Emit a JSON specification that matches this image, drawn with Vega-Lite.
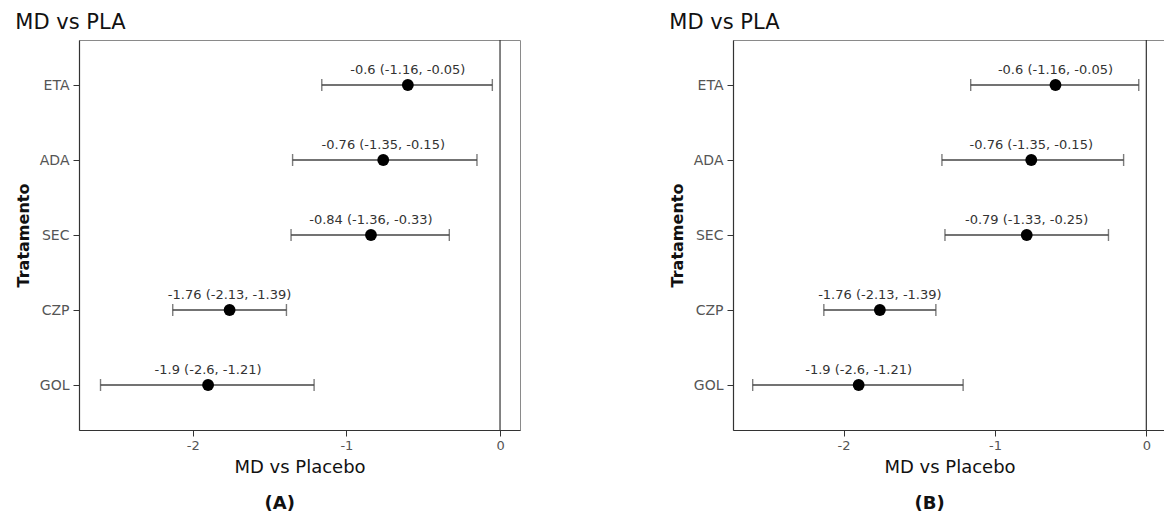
{
  "$schema": "https://vega.github.io/schema/vega-lite/v6.json",
  "padding": {"left": 14, "top": 11, "right": 0, "bottom": 0},
  "background": "white",
  "config": {
    "font": "DejaVu Sans",
    "view": {"stroke": "#8a8a8a", "strokeWidth": 1},
    "axis": {
      "grid": false,
      "domainColor": "#333333",
      "domainWidth": 1.2,
      "tickColor": "#333333",
      "tickSize": 6,
      "labelColor": "#555555",
      "labelFont": "DejaVu Sans",
      "titleFont": "DejaVu Sans",
      "titleColor": "#111111"
    },
    "concat": {"spacing": 147}
  },
  "datasets": {
    "panelA": [
      {"trat": "ETA", "md": -0.6, "lo": -1.16, "hi": -0.05, "label": "-0.6 (-1.16, -0.05)"},
      {"trat": "ADA", "md": -0.76, "lo": -1.35, "hi": -0.15, "label": "-0.76 (-1.35, -0.15)"},
      {"trat": "SEC", "md": -0.84, "lo": -1.36, "hi": -0.33, "label": "-0.84 (-1.36, -0.33)"},
      {"trat": "CZP", "md": -1.76, "lo": -2.13, "hi": -1.39, "label": "-1.76 (-2.13, -1.39)"},
      {"trat": "GOL", "md": -1.9, "lo": -2.6, "hi": -1.21, "label": "-1.9 (-2.6, -1.21)"}
    ],
    "panelB": [
      {"trat": "ETA", "md": -0.6, "lo": -1.16, "hi": -0.05, "label": "-0.6 (-1.16, -0.05)"},
      {"trat": "ADA", "md": -0.76, "lo": -1.35, "hi": -0.15, "label": "-0.76 (-1.35, -0.15)"},
      {"trat": "SEC", "md": -0.79, "lo": -1.33, "hi": -0.25, "label": "-0.79 (-1.33, -0.25)"},
      {"trat": "CZP", "md": -1.76, "lo": -2.13, "hi": -1.39, "label": "-1.76 (-2.13, -1.39)"},
      {"trat": "GOL", "md": -1.9, "lo": -2.6, "hi": -1.21, "label": "-1.9 (-2.6, -1.21)"}
    ],
    "zeroLine": [{"ref": 0}]
  },
  "hconcat": [
    {
      "title": {"text": "(A)", "orient": "bottom", "fontSize": 18, "fontWeight": "bold", "color": "#111111", "anchor": "middle", "offset": 18, "dx": 12},
      "vconcat": [
        {
          "width": 441,
          "height": 390,
          "title": {"text": "MD vs PLA", "anchor": "start", "fontSize": 21, "fontWeight": "normal", "color": "#111111", "offset": 6},
          "layer": [
            {
              "data": {"name": "zeroLine"},
              "mark": {"type": "rule", "color": "#333333", "strokeWidth": 1.2},
              "encoding": {
                "x": {"field": "ref", "type": "quantitative", "scale": {"domain": [-2.74, 0.13], "nice": false, "zero": false}}
              }
            },
            {
              "data": {"name": "panelA"},
              "mark": {"type": "rule", "color": "#444444", "strokeWidth": 1.3},
              "encoding": {
                "y": {"field": "trat", "type": "nominal", "sort": ["ETA", "ADA", "SEC", "CZP", "GOL"], "scale": {"type": "point", "padding": 0.6}, "axis": {"title": "Tratamento", "titleFontSize": 16, "titleFontWeight": "bold", "titlePadding": 8, "labelFontSize": 14, "labelPadding": 4}},
                "x": {"field": "lo", "type": "quantitative", "scale": {"domain": [-2.74, 0.13], "nice": false, "zero": false}, "axis": {"title": "MD vs Placebo", "values": [-2, -1, 0], "labelExpr": "'' + datum.value", "titleFontSize": 18, "titleFontWeight": "normal", "labelFontSize": 13, "titlePadding": 6, "labelPadding": 3}},
                "x2": {"field": "hi"}
              }
            },
            {
              "data": {"name": "panelA"},
              "mark": {"type": "tick", "orient": "vertical", "color": "#444444", "size": 12, "thickness": 1.4},
              "encoding": {
                "y": {"field": "trat", "type": "nominal", "sort": ["ETA", "ADA", "SEC", "CZP", "GOL"]},
                "x": {"field": "lo", "type": "quantitative"}
              }
            },
            {
              "data": {"name": "panelA"},
              "mark": {"type": "tick", "orient": "vertical", "color": "#444444", "size": 12, "thickness": 1.4},
              "encoding": {
                "y": {"field": "trat", "type": "nominal", "sort": ["ETA", "ADA", "SEC", "CZP", "GOL"]},
                "x": {"field": "hi", "type": "quantitative"}
              }
            },
            {
              "data": {"name": "panelA"},
              "mark": {"type": "circle", "color": "black", "opacity": 1, "size": 140},
              "encoding": {
                "y": {"field": "trat", "type": "nominal", "sort": ["ETA", "ADA", "SEC", "CZP", "GOL"]},
                "x": {"field": "md", "type": "quantitative"}
              }
            },
            {
              "data": {"name": "panelA"},
              "mark": {"type": "text", "dy": -15, "fontSize": 13, "color": "#333333", "font": "DejaVu Sans"},
              "encoding": {
                "y": {"field": "trat", "type": "nominal", "sort": ["ETA", "ADA", "SEC", "CZP", "GOL"]},
                "x": {"field": "md", "type": "quantitative"},
                "text": {"field": "label"}
              }
            }
          ]
        }
      ]
    },
    {
      "title": {"text": "(B)", "orient": "bottom", "fontSize": 18, "fontWeight": "bold", "color": "#111111", "anchor": "middle", "offset": 18, "dx": 12},
      "vconcat": [
        {
          "width": 433,
          "height": 390,
          "title": {"text": "MD vs PLA", "anchor": "start", "fontSize": 21, "fontWeight": "normal", "color": "#111111", "offset": 6},
          "layer": [
            {
              "data": {"name": "zeroLine"},
              "mark": {"type": "rule", "color": "#333333", "strokeWidth": 1.2},
              "encoding": {
                "x": {"field": "ref", "type": "quantitative", "scale": {"domain": [-2.73, 0.13], "nice": false, "zero": false}}
              }
            },
            {
              "data": {"name": "panelB"},
              "mark": {"type": "rule", "color": "#444444", "strokeWidth": 1.3},
              "encoding": {
                "y": {"field": "trat", "type": "nominal", "sort": ["ETA", "ADA", "SEC", "CZP", "GOL"], "scale": {"type": "point", "padding": 0.6}, "axis": {"title": "Tratamento", "titleFontSize": 16, "titleFontWeight": "bold", "titlePadding": 8, "labelFontSize": 14, "labelPadding": 4}},
                "x": {"field": "lo", "type": "quantitative", "scale": {"domain": [-2.73, 0.13], "nice": false, "zero": false}, "axis": {"title": "MD vs Placebo", "values": [-2, -1, 0], "labelExpr": "'' + datum.value", "titleFontSize": 18, "titleFontWeight": "normal", "labelFontSize": 13, "titlePadding": 6, "labelPadding": 3}},
                "x2": {"field": "hi"}
              }
            },
            {
              "data": {"name": "panelB"},
              "mark": {"type": "tick", "orient": "vertical", "color": "#444444", "size": 12, "thickness": 1.4},
              "encoding": {
                "y": {"field": "trat", "type": "nominal", "sort": ["ETA", "ADA", "SEC", "CZP", "GOL"]},
                "x": {"field": "lo", "type": "quantitative"}
              }
            },
            {
              "data": {"name": "panelB"},
              "mark": {"type": "tick", "orient": "vertical", "color": "#444444", "size": 12, "thickness": 1.4},
              "encoding": {
                "y": {"field": "trat", "type": "nominal", "sort": ["ETA", "ADA", "SEC", "CZP", "GOL"]},
                "x": {"field": "hi", "type": "quantitative"}
              }
            },
            {
              "data": {"name": "panelB"},
              "mark": {"type": "circle", "color": "black", "opacity": 1, "size": 140},
              "encoding": {
                "y": {"field": "trat", "type": "nominal", "sort": ["ETA", "ADA", "SEC", "CZP", "GOL"]},
                "x": {"field": "md", "type": "quantitative"}
              }
            },
            {
              "data": {"name": "panelB"},
              "mark": {"type": "text", "dy": -15, "fontSize": 13, "color": "#333333", "font": "DejaVu Sans"},
              "encoding": {
                "y": {"field": "trat", "type": "nominal", "sort": ["ETA", "ADA", "SEC", "CZP", "GOL"]},
                "x": {"field": "md", "type": "quantitative"},
                "text": {"field": "label"}
              }
            }
          ]
        }
      ]
    }
  ]
}
